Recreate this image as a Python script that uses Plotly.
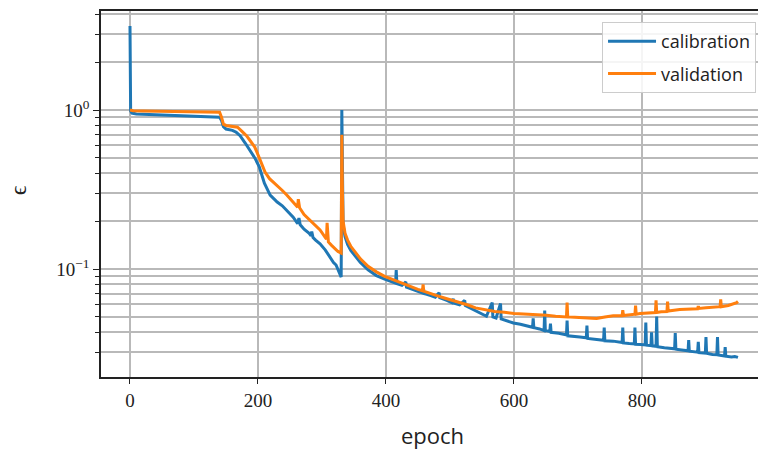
import plotly.graph_objects as go

# ---- data ----
cal_epoch = [0, 1, 3, 10, 20, 30, 40, 50, 60, 70, 80, 90, 100, 110, 120, 130, 140,
             143, 146, 150, 160, 166, 172, 180, 188, 195, 202, 206, 210, 219, 230, 238, 245,
             255, 262, 264, 266, 272, 280, 283, 284, 286, 290, 297, 305, 312, 318, 322, 325,
             329, 330, 331, 332, 333, 336, 340, 345, 352, 360, 372, 385, 398, 410, 415, 416,
             417, 425, 431, 432, 440, 450, 458, 459, 460, 470, 477, 483, 484, 495, 503, 505,
             506, 515, 523, 524, 535, 547, 557, 566, 567, 572, 579, 580, 590, 599, 610, 620,
             629, 630, 631, 640, 647, 648, 649, 656, 657, 658, 670, 682, 683, 684, 695, 703,
             713, 714, 715, 728, 740, 741, 742, 755, 769, 770, 771, 780, 788, 789, 790, 798,
             805, 806, 807, 814, 815, 816, 822, 823, 824, 835, 845, 851, 852, 853, 862, 872,
             873, 874, 887, 888, 889, 899, 900, 901, 910, 917, 918, 919, 929, 930, 931, 940,
             945, 950]
cal_eps = [3.38, 0.985, 0.957, 0.944, 0.940, 0.937, 0.934, 0.930, 0.928, 0.925, 0.923, 0.918,
           0.917, 0.912, 0.910, 0.906, 0.902,
           0.86, 0.785, 0.760, 0.745, 0.725, 0.69, 0.62, 0.55, 0.50, 0.44, 0.385, 0.347, 0.292,
           0.264, 0.25, 0.235,
           0.212, 0.193, 0.209, 0.19, 0.178, 0.168, 0.162, 0.172, 0.158, 0.152, 0.144, 0.132,
           0.119, 0.110, 0.106, 0.099,
           0.092, 0.089, 1.0, 0.30, 0.19, 0.16, 0.143, 0.131, 0.121, 0.110, 0.099, 0.091, 0.0865,
           0.083, 0.0815, 0.0985,
           0.081, 0.079, 0.083, 0.077, 0.075, 0.072, 0.0705, 0.074, 0.070, 0.068, 0.0665, 0.071,
           0.066, 0.0635, 0.0615, 0.065,
           0.061, 0.0595, 0.0635, 0.059, 0.056, 0.0525, 0.0505, 0.0616, 0.050, 0.0492, 0.0607,
           0.0485, 0.0470, 0.0458, 0.045, 0.0438,
           0.043, 0.049, 0.0428, 0.042, 0.041, 0.0548, 0.041, 0.0405, 0.0454, 0.040, 0.0395,
           0.0385, 0.0474, 0.038, 0.0378, 0.0374,
           0.037, 0.0441, 0.0366, 0.036, 0.0356, 0.0429, 0.0354, 0.0352, 0.0345, 0.0429, 0.0343,
           0.034, 0.0338, 0.0429, 0.0336, 0.0335,
           0.0333, 0.0461, 0.0332, 0.033, 0.0400, 0.0329, 0.0327, 0.0502, 0.0325, 0.032, 0.0317,
           0.0315, 0.0396, 0.0313, 0.0310, 0.0306,
           0.0358, 0.0304, 0.030, 0.0348, 0.0298, 0.0296, 0.0374, 0.0295, 0.0290, 0.0289, 0.0374,
           0.0288, 0.0284, 0.0323, 0.0283, 0.0280,
           0.0282, 0.0278]

val_epoch = [0, 5, 20, 40, 60, 80, 100, 120, 135, 140, 143, 146, 150, 160, 168, 175, 182, 187,
             195, 202, 206, 211, 218, 224, 232, 238, 245, 255, 262, 263, 265, 272, 281, 290,
             297, 305, 307, 308, 310, 315, 320, 325, 330, 331, 332, 333, 336, 340, 345, 352,
             360, 372, 385, 398, 410, 425, 440, 450, 457, 458, 459, 467, 477, 490, 503, 515,
             528, 540, 555, 570, 585, 600, 615, 630, 651, 665, 682, 683, 684, 695, 703, 716,
             729, 742, 755, 769, 770, 771, 780, 789, 790, 791, 797, 810, 821, 822, 823, 830,
             839, 840, 841, 859, 872, 887, 888, 889, 900, 911, 922, 923, 924, 935, 942, 948, 950]
val_eps = [1.0, 0.99, 0.988, 0.986, 0.985, 0.984, 0.983, 0.982, 0.98, 0.97, 0.90, 0.815, 0.80,
           0.79, 0.78, 0.735, 0.69, 0.648,
           0.585, 0.50, 0.45, 0.407, 0.37, 0.353, 0.330, 0.312, 0.292, 0.265, 0.245, 0.275, 0.243,
           0.22, 0.203, 0.19,
           0.176, 0.158, 0.154, 0.195, 0.148, 0.141, 0.134, 0.129, 0.126, 0.70, 0.30, 0.20, 0.168,
           0.152, 0.139, 0.127,
           0.116, 0.104, 0.096, 0.090, 0.086, 0.0815, 0.0775, 0.0745, 0.073, 0.080, 0.0725, 0.071,
           0.0685, 0.066, 0.0638, 0.0615,
           0.0594, 0.057, 0.0552, 0.054, 0.0535, 0.0525, 0.0522, 0.052, 0.0512, 0.0505, 0.050,
           0.0616, 0.050, 0.0497, 0.0495, 0.049,
           0.0488, 0.050, 0.0509, 0.051, 0.0552, 0.051, 0.0515, 0.052, 0.0589, 0.052, 0.0525,
           0.053, 0.0533, 0.0635, 0.0533, 0.0538,
           0.054, 0.0625, 0.0545, 0.0556, 0.0558, 0.0563, 0.0585, 0.0565, 0.057, 0.0575, 0.058,
           0.0644, 0.058, 0.059, 0.060, 0.0615, 0.0625]

x_ticks = [0, 200, 400, 600, 800]
y_major = [0.1, 1]
y_major_text = ["10<sup>\u22121</sup>", "10<sup>0</sup>"]
y_minor = [0.03, 0.04, 0.05, 0.06, 0.07, 0.08, 0.09,
           0.2, 0.3, 0.4, 0.5, 0.6, 0.7, 0.8, 0.9, 2, 3, 4]

BLUE = "#1f77b4"
ORANGE = "#ff7f0e"
GRID = "#b9b9b9"
SERIF = "Liberation Serif, DejaVu Serif, serif"
SANS = "Open Sans, DejaVu Sans, sans-serif"

fig = go.Figure()
fig.add_trace(go.Scatter(x=cal_epoch, y=cal_eps, mode="lines", name="calibration",
                         line=dict(color=BLUE, width=3), legendgroup="a"))
fig.add_trace(go.Scatter(x=val_epoch, y=val_eps, mode="lines", name="validation",
                         line=dict(color=ORANGE, width=3), legendgroup="b"))

fig.update_layout(
    width=758, height=452,
    margin=dict(l=101, r=0, t=11, b=75, pad=0),
    paper_bgcolor="white", plot_bgcolor="white",
    showlegend=True,
    legend=dict(x=0.997, y=0.970, xanchor="right", yanchor="top",
                bgcolor="rgba(255,255,255,0.85)", bordercolor="#cccccc", borderwidth=1,
                font=dict(family=SANS, size=18, color="#222222"),
                itemwidth=48,
                traceorder="grouped", tracegroupgap=6),
    xaxis=dict(range=[-45.3, 981.3], tickmode="array", tickvals=x_ticks,
               ticks="outside", ticklen=5, tickwidth=1.4, tickcolor="#222222",
               showline=True, linecolor="#222222", linewidth=1.6, mirror=True,
               showgrid=True, gridcolor=GRID, gridwidth=1.6, zeroline=False,
               tickfont=dict(family=SERIF, size=19, color="#222222")),
    yaxis=dict(type="log", range=[-1.679, 0.623], tickmode="array",
               tickvals=y_major, ticktext=y_major_text,
               ticks="outside", ticklen=6, tickwidth=1.4, tickcolor="#222222",
               showline=True, linecolor="#222222", linewidth=1.6, mirror=False,
               showgrid=True, gridcolor=GRID, gridwidth=1.6, zeroline=False,
               tickfont=dict(family=SERIF, size=19, color="#222222"),
               minor=dict(tickmode="array", tickvals=y_minor, ticks="outside", ticklen=4,
                          tickwidth=1.2, tickcolor="#222222", showgrid=True,
                          gridcolor=GRID, gridwidth=1.6)),
    annotations=[
        dict(text="epoch", xref="paper", yref="paper", x=0.505, y=-0.158,
             xanchor="center", yanchor="middle",
             showarrow=False, font=dict(family=SANS, size=22, color="#222222")),
        dict(text="\u03f5", xref="paper", yref="paper", x=-0.126, y=0.511,
             xanchor="center", yanchor="middle",
             showarrow=False, textangle=-90,
             font=dict(family=SERIF, size=24, color="#222222")),
    ],
)

fig.write_html("out.html", config={"displayModeBar": False},
               post_script="document.body.style.margin='0';document.body.style.padding='0';")
